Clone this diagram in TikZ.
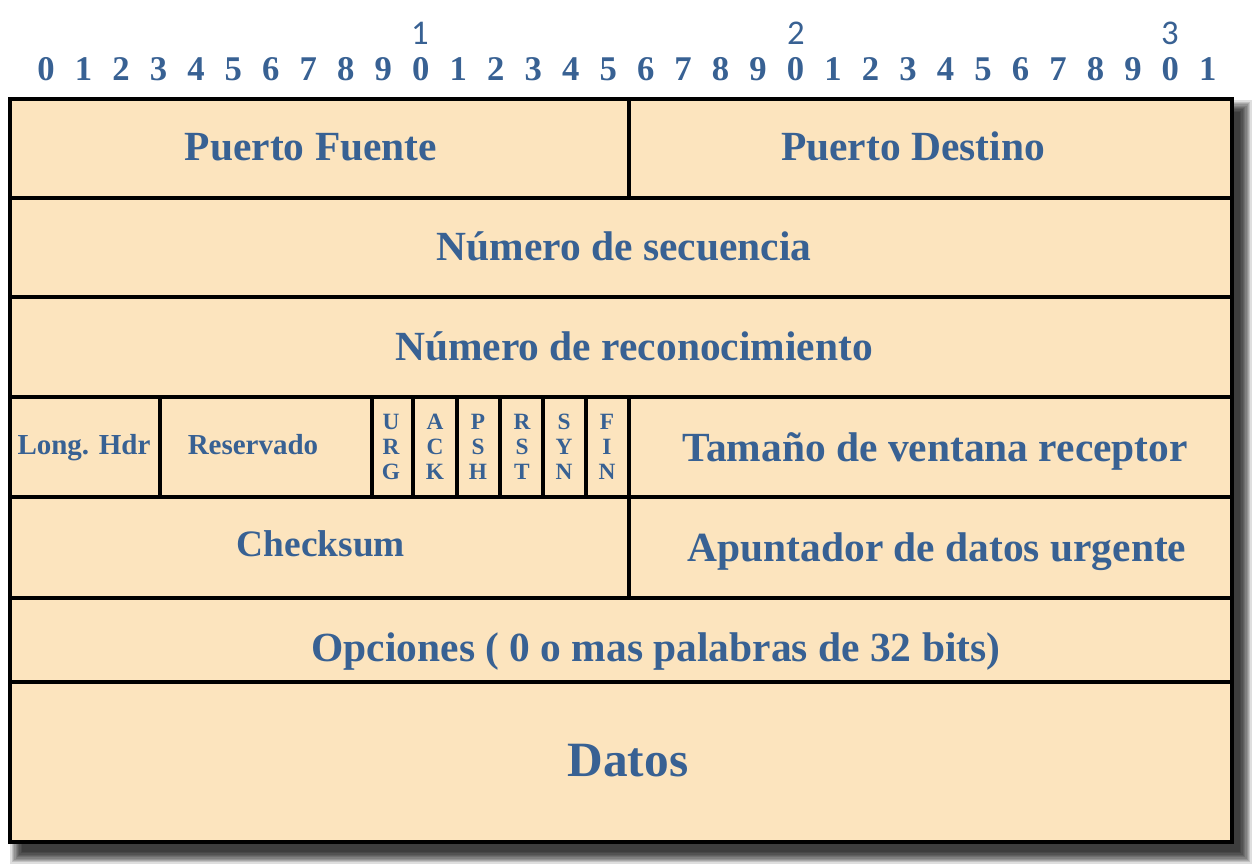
\documentclass[tikz,border=0pt]{standalone}
\usepackage{fontspec}
\setmainfont{Liberation Serif}
\newfontfamily\carlfont{Carlito}
\definecolor{cellfill}{RGB}{252,228,190}
\definecolor{txt}{RGB}{56,97,147}
\begin{document}
\begin{tikzpicture}[x=0.75pt,y=-0.75pt,
  gridline/.style={line width=3.4pt,draw=black},
  biglbl/.style={text=txt,inner sep=0pt,font=\fontsize{31.1}{36}\selectfont\bfseries,text height=20.6pt,text depth=0pt},
  chklbl/.style={text=txt,inner sep=0pt,font=\fontsize{28}{33}\selectfont\bfseries,text height=18.5pt,text depth=0pt},
  datoslbl/.style={text=txt,inner sep=0pt,font=\fontsize{37}{42}\selectfont\bfseries,text height=24.5pt,text depth=0pt},
  midlbl/.style={text=txt,inner sep=0pt,font=\fontsize{21.75}{26}\selectfont\bfseries,text height=14.4pt,text depth=0pt},
  flaglbl/.style={text=txt,inner sep=0pt,align=center,font=\fontsize{17.5}{18.6}\selectfont\bfseries},
  digitlbl/.style={text=txt,inner sep=0pt,font=\fontsize{26}{30}\selectfont\bfseries,text height=17.6pt,text depth=0pt},
  tenslbl/.style={text=txt,inner sep=0pt,font=\fontsize{26}{30}\selectfont\carlfont,text height=16.4pt,text depth=0pt}]
\useasboundingbox (0,0) rectangle (1258,868);
\fill[white] (0,0) rectangle (1258,868);
% shadow
\foreach \i in {0,...,9}
  \fill[black,opacity=0.13] ({22-\i*1.3},{112-\i*1.3}) rectangle ({1240+\i*1.3},{852+\i*1.3});
% body
\fill[cellfill] (10,99) rectangle (1232,842);
\foreach \y in {198,297,397,497,598,682}
  \draw[gridline] (10,\y) -- (1232,\y);
\draw[gridline] (629,99) -- (629,198);
\draw[gridline] (629,397) -- (629,598);
\foreach \x in {160,372,413,457,500,543,586}
  \draw[gridline] (\x,397) -- (\x,497);
\draw[gridline] (10,99) rectangle (1232,842);
% bit numbers
\foreach \k in {0,...,31} {
  \pgfmathtruncatemacro\d{mod(\k,10)}
  \node[digitlbl] (bit\k) at ({46+\k*37.48},69) {\d};
}
\node[tenslbl] (ten1) at (420,34) {1};
\node[tenslbl] (ten2) at (796,34) {2};
\node[tenslbl] (ten3) at (1170,34) {3};
% labels
\node[biglbl] (pf) at (311,147) {Puerto Fuente};
\node[biglbl] (pd) at (913,147) {Puerto Destino};
\node[biglbl] (seq) at (624,247) {Número de secuencia};
\node[biglbl] (ack) at (634,347) {Número de reconocimiento};
\node[midlbl] (lh) at (84,445) {Long. Hdr};
\node[midlbl] (res) at (253,445) {Reservado};
\node[flaglbl] (furg) at (391,447) {U\\R\\G};
\node[flaglbl] (fack) at (435,447) {A\\C\\K};
\node[flaglbl] (fpsh) at (478,447) {P\\S\\H};
\node[flaglbl] (frst) at (522,447) {R\\S\\T};
\node[flaglbl] (fsyn) at (564,447) {S\\Y\\N};
\node[flaglbl] (ffin) at (607,447) {F\\I\\N};
\node[biglbl] (win) at (935,448) {Tamaño de ventana receptor};
\node[chklbl] (chk) at (321,544) {Checksum};
\node[biglbl] (urg) at (937,548) {Apuntador de datos urgente};
\node[biglbl] (opt) at (656,648) {Opciones ( 0 o mas palabras de 32 bits)};
\node[datoslbl] (dat) at (628,760) {Datos};
\end{tikzpicture}
\end{document}
